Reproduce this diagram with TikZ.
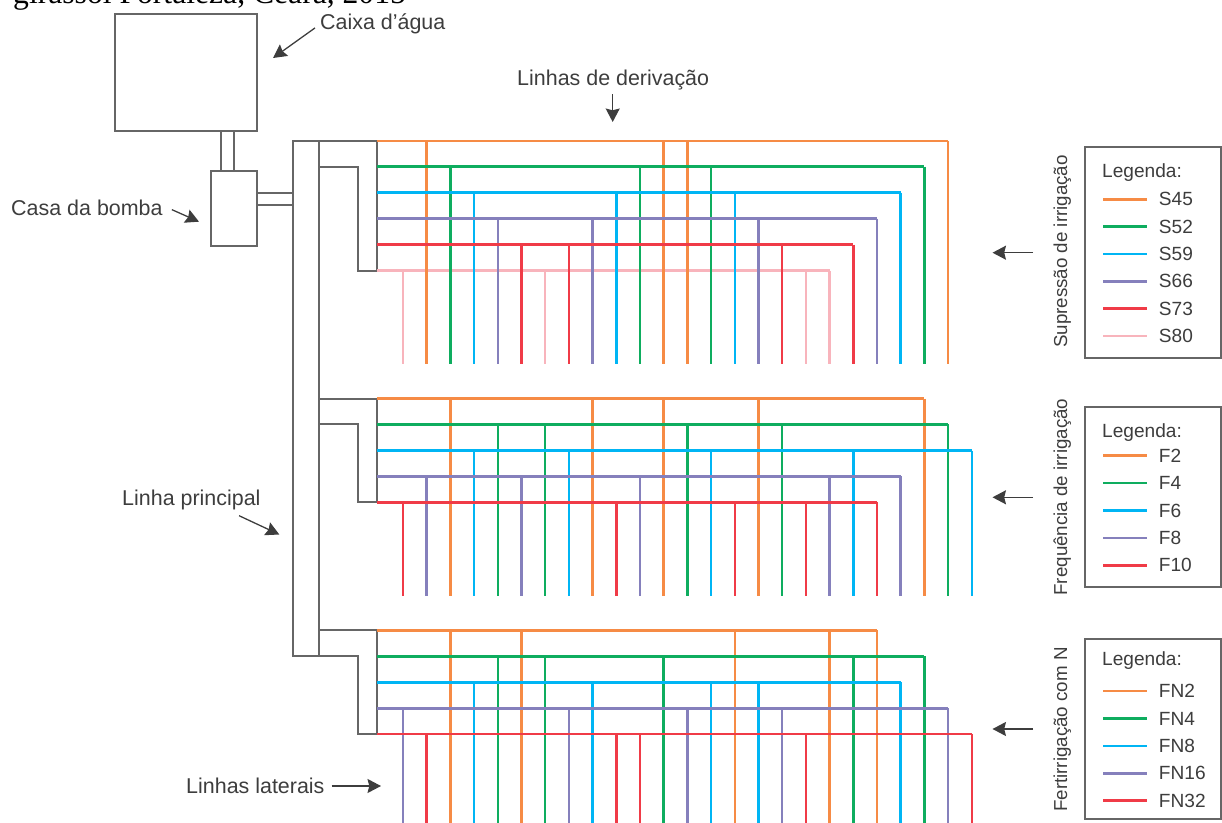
\documentclass[tikz,border=0pt]{standalone}
\usepackage{fontspec}
\setmainfont{Liberation Sans}
\newfontfamily\capfont{Liberation Serif}
\usetikzlibrary{arrows.meta}
\definecolor{corange}{HTML}{F68B45}
\definecolor{cgreen}{HTML}{0EAD5F}
\definecolor{cblue}{HTML}{00B5F4}
\definecolor{cpurple}{HTML}{8580BC}
\definecolor{cred}{HTML}{F03B47}
\definecolor{cpink}{HTML}{F8B4BC}
\definecolor{cgrey}{HTML}{666666}
\definecolor{cdark}{HTML}{3D3D3D}
\tikzset{
  every picture/.style={x=0.03cm, y=-0.03cm},
  pipe/.style={draw=cgrey, line width=1.5pt},
  lateral/.style={draw=#1, line width=2.2pt},
  seta/.style={-{Stealth[length=11.5pt, width=12pt, inset=1.5pt]}, draw=cdark, line width=1.1pt},
  lbl/.style={font=\fontsize{18.3}{21}\selectfont, text=cdark, inner sep=0pt, anchor=base west},
  leg/.style={lbl, font=\fontsize{16.3}{19}\selectfont},
  side/.style={lbl, font=\fontsize{16}{19}\selectfont, rotate=90, anchor=base},
  legbox/.style={draw=cgrey, line width=1.5pt, fill=white},
}
\begin{document}
\begin{tikzpicture}
  \clip (0,0) rectangle (1222,823);
  \node[font=\capfont\fontsize{27}{30}\selectfont, inner sep=0pt, anchor=base west] (caption) at (13,3.5) {girassol Fortaleza, Ceará, 2015};

  \draw[pipe] (115,14) rectangle (257.3,131);
  \draw[pipe] (220.7,131) -- (220.7,170.7) (233.7,131) -- (233.7,170.7);
  \draw[pipe] (211,170.7) rectangle (257.3,245.7);
  \draw[pipe] (257.3,192.7) -- (292.7,192.7) (257.3,205) -- (292.7,205);
  \draw[pipe] (292.7,141) rectangle (319,656.3);
  \foreach \ytop/\ymid/\ybot in {141/166.7/270.7, 398.7/424.3/502.3, 630.3/656.3/734}
    \draw[pipe] (319,\ytop) -- (377,\ytop) -- (377,\ybot) -- (358.3,\ybot) -- (358.3,\ymid) -- (319,\ymid);

  \foreach \col/\yrow/\last/\cols in {cpink/270.7/18/{0,6,17,18}, corange/141/23/{1,11,12,23}, cgreen/166.7/22/{2,10,13,22}, cblue/192.7/21/{3,9,14,21}, cpurple/218.7/20/{4,8,15,20}, cred/244.7/19/{5,7,16,19}} {
    \draw[lateral=\col] (377,\yrow) -- ({403+23.7*\last},\yrow);
    \foreach \i in \cols \draw[lateral=\col] ({403+23.7*\i},\yrow) -- ({403+23.7*\i},364);
  }
  \foreach \col/\yrow/\last/\cols in {corange/398.7/22/{2,8,11,15,22}, cgreen/424.3/23/{4,6,12,16,23}, cblue/450.7/24/{3,7,13,19,24}, cpurple/476.3/21/{1,5,10,18,21}, cred/502.3/20/{0,9,14,17,20}} {
    \draw[lateral=\col] (377,\yrow) -- ({403+23.7*\last},\yrow);
    \foreach \i in \cols \draw[lateral=\col] ({403+23.7*\i},\yrow) -- ({403+23.7*\i},595.7);
  }
  \foreach \col/\yrow/\last/\cols in {corange/630.3/20/{2,5,14,18,20}, cgreen/656.3/22/{4,6,11,19,22}, cblue/682.3/21/{3,8,13,15,21}, cpurple/708.3/23/{0,7,12,16,23}, cred/734/24/{1,9,10,17,24}} {
    \draw[lateral=\col] (377,\yrow) -- ({403+23.7*\last},\yrow);
    \foreach \i in \cols \draw[lateral=\col] ({403+23.7*\i},\yrow) -- ({403+23.7*\i},825);
  }

  \node[lbl] (caixa) at (320,30) {Caixa d’água};
  \node[lbl] (casa) at (11,216) {Casa da bomba};
  \node[lbl] (derivacao) at (517,85.5) {Linhas de derivação};
  \node[lbl] (principal) at (122,505) {Linha principal};
  \node[lbl] (laterais) at (186,793.5) {Linhas laterais};
  \coordinate (caixaend) at (273,58);
  \coordinate (casaend) at (199,221.7);
  \coordinate (derivacaoend) at (612.7,122);
  \coordinate (principalend) at (279.3,534.5);
  \coordinate (lateraisend) at (381,786);
  \draw[seta] ([shift={(-5,3.6)}]caixa.west) -- (caixaend);
  \draw[seta] ([shift={(9,1.3)}]casa.east) -- (casaend);
  \draw[seta] ([shift={(0,4)}]derivacao.south -| derivacaoend) -- (derivacaoend);
  \draw[seta] ([shift={(-21.7,6)}]principal.south east) -- (principalend);
  \draw[seta] ([shift={(7,0)}]laterais.east |- lateraisend) -- (lateraisend);

  \foreach \name/\ytop/\ybot/\ytxt/\yarrow/\ylabel/\txt in {sup/147.3/357.7/177.5/252.7/251.5/Supressão de irrigação, fre/407.3/587.3/438/497.3/497/Frequência de irrigação, fer/639.3/819/665/729/729.5/Fertirrigação com N} {
    \draw[legbox] (1085,\ytop) rectangle (1220.7,\ybot);
    \node[leg] (leg\name) at (1102,\ytxt) {Legenda:};
    \node[side] (side\name) at (1067,\ylabel) {\txt};
    \coordinate (tail\name) at (1033,\yarrow);
    \coordinate (tip\name) at (992.5,\yarrow);
    \draw[seta] (tail\name) -- (tip\name);
  }
  \foreach \col/\yrow/\txt in {corange/199.3/S45, cgreen/226.7/S52, cblue/254/S59, cpurple/281.3/S66, cred/308.7/S73, cpink/336/S80, corange/455.7/F2, cgreen/483/F4, cblue/510.7/F6, cpurple/538/F8, cred/565.3/F10, corange/691/FN2, cgreen/718.7/FN4, cblue/746/FN8, cpurple/773.3/FN16, cred/800.7/FN32} {
    \coordinate (a\txt) at (1103.3,\yrow);
    \coordinate (b\txt) at (1146.7,\yrow);
    \draw[lateral=\col] (a\txt) -- (b\txt);
    \node[leg] (t\txt) at (1158.7,\yrow+6.5) {\txt};
  }
\end{tikzpicture}
\end{document}
